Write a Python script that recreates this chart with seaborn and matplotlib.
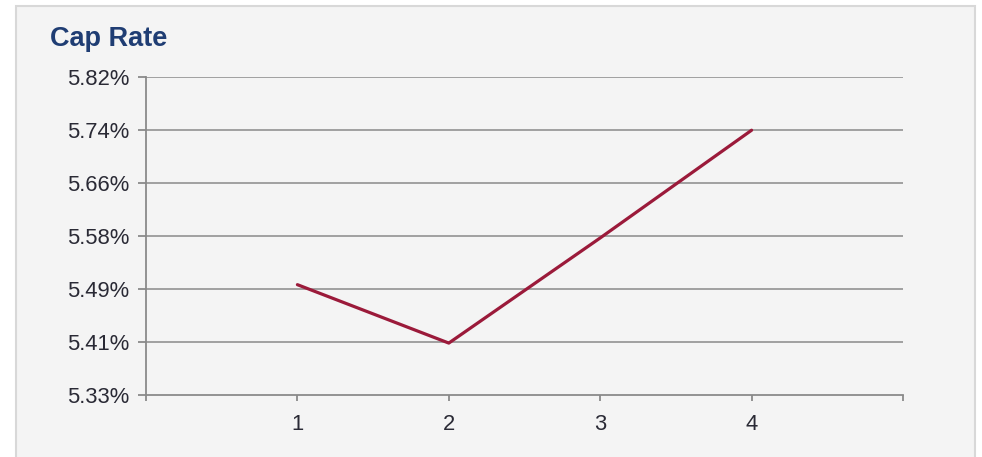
import matplotlib
matplotlib.use("Agg")
import matplotlib.pyplot as plt
import matplotlib.patches as mpatches
import numpy as np
import pandas as pd
import seaborn as sns

# Cap rate by period (percent)
periods = [1, 2, 3, 4]
cap_rate = [5.50, 5.41, 5.572, 5.738]
y_min, y_max = 5.33, 5.82
x_ticks = [1, 2, 3, 4]

sns.set_theme(style="white")
plt.rcParams["font.family"] = ["Liberation Sans", "DejaVu Sans"]

fig = plt.figure(figsize=(9.82, 4.57), dpi=100)
fig.patch.set_facecolor("white")

# light panel behind the chart
panel = mpatches.Rectangle((16 / 982, -0.01), (975 - 16) / 982, 1 - 6 / 457 + 0.01,
                           transform=fig.transFigure, facecolor="#f4f4f4",
                           edgecolor="#d8d8d8", linewidth=1.5, zorder=-10)
fig.add_artist(panel)

ax = fig.add_axes([146 / 982, 1 - 395 / 457, (903 - 146) / 982, (395 - 77) / 457])
ax.set_facecolor("none")

df = pd.DataFrame({"period": periods, "cap": cap_rate})
sns.lineplot(data=df, x="period", y="cap", ax=ax, color="#9b1a3a", linewidth=2.3,
             zorder=3)

ax.set_xlim(0, 5)
ax.set_ylim(y_min, y_max)
yt = np.linspace(y_min, y_max, 7)
ax.set_yticks(yt)
ax.set_yticklabels([f"{v:.2f}%" for v in yt])
ax.set_xticks([0] + x_ticks + [5])
ax.set_xticklabels([""] + [str(t) for t in x_ticks] + [""])

for v in yt[1:]:
    ax.axhline(v, color="#9a9a9a", linewidth=1.3, zorder=1)

for s in ["top", "right"]:
    ax.spines[s].set_visible(False)
for s in ["left", "bottom"]:
    ax.spines[s].set_color("#8a8a8a")
    ax.spines[s].set_linewidth(1.3)

ax.tick_params(axis="both", colors="#8a8a8a", labelcolor="#2a2a35",
               labelsize=15.8, width=1.3, direction="out")
ax.tick_params(axis="y", left=True, length=6, pad=6)
ax.tick_params(axis="x", bottom=True, length=4.5, pad=9)
ax.set_xlabel("")
ax.set_ylabel("")

fig.text(50 / 982, 1 - 46 / 457, "Cap Rate", fontsize=19.5, fontweight="bold",
         color="#1f3d73", ha="left", va="baseline")

fig.savefig("out.png", dpi=100, facecolor="white")
